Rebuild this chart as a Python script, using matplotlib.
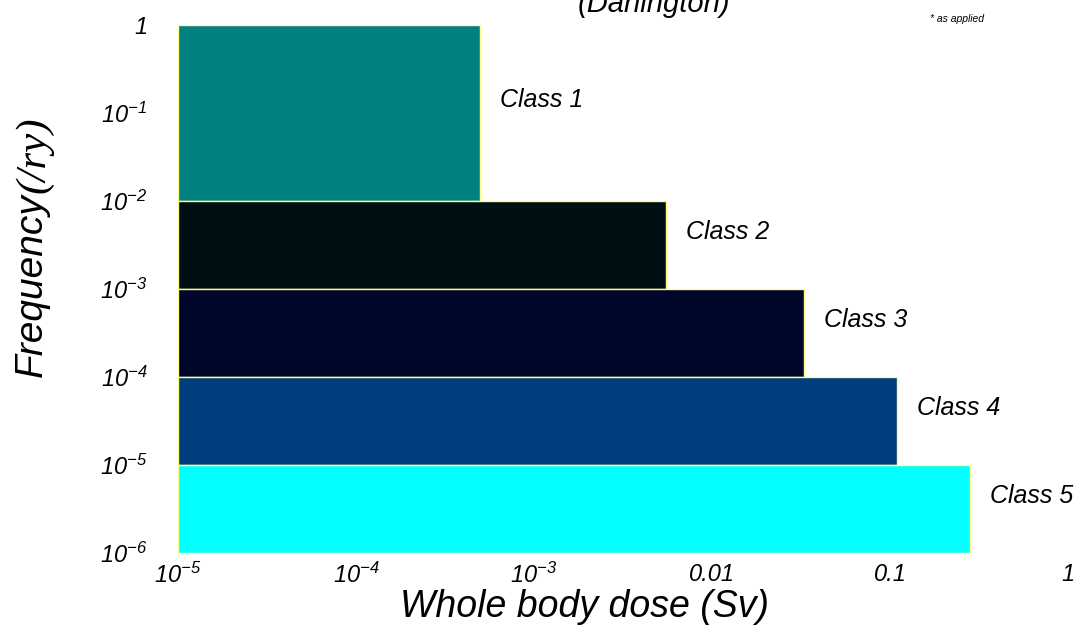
import matplotlib.pyplot as plt

# Class bands: frequency range (/ry) and dose limit (Sv)
classes = ["Class 1", "Class 2", "Class 3", "Class 4", "Class 5"]
freq_upper = [1, 1e-2, 1e-3, 1e-4, 1e-5]
freq_lower = [1e-2, 1e-3, 1e-4, 1e-5, 1e-6]
dose_limit = [5e-4, 5.5e-3, 0.033, 0.11, 0.28]
dose_start = 1e-5
colors = ["#008080", "#000f14", "#00052a", "#003d7c", "#00ffff"]

x_ticks = [1e-5, 1e-4, 1e-3, 1e-2, 1e-1, 1]
x_tick_labels = [r"$10^{-5}$", r"$10^{-4}$", r"$10^{-3}$", "0.01", "0.1", "1"]
y_ticks = [1, 1e-1, 1e-2, 1e-3, 1e-4, 1e-5, 1e-6]
y_tick_labels = ["1", r"$10^{-1}$", r"$10^{-2}$", r"$10^{-3}$", r"$10^{-4}$",
                 r"$10^{-5}$", r"$10^{-6}$"]

plt.rcParams["font.family"] = ["Liberation Sans", "DejaVu Sans"]
plt.rcParams["mathtext.fontset"] = "custom"
plt.rcParams["mathtext.rm"] = "Liberation Sans:italic"
plt.rcParams["mathtext.it"] = "Liberation Sans:italic"

W, H = 1079, 633
fig = plt.figure(figsize=(W / 100, H / 100), dpi=100)
ax = fig.add_axes([178 / W, 1 - 553 / H, 890 / W, 528 / H])
ax.set_xscale("log")
ax.set_yscale("log")

heights = [u - l for u, l in zip(freq_upper, freq_lower)]
widths = [d - dose_start for d in dose_limit]
ax.barh(freq_lower, widths, height=heights, left=dose_start, align="edge",
        color=colors, edgecolor="#ffff88", linewidth=1)

# class labels just to the right of each band
for name, d, lo, hi in zip(classes, dose_limit, freq_lower, freq_upper):
    ax.annotate(name, xy=(d, (lo * hi) ** 0.5), xytext=(20, 13),
                textcoords="offset pixels", ha="left", va="center",
                fontsize=18, style="italic")

ax.set_xlim(1e-5, 1)
ax.set_ylim(1e-6, 1)
ax.set_xticks(x_ticks)
ax.set_xticklabels(x_tick_labels, fontsize=17, style="italic")
ax.set_yticks(y_ticks)
ax.set_yticklabels(y_tick_labels, fontsize=17, style="italic")
ax.minorticks_off()
ax.tick_params(length=0, axis="x", pad=7)
ax.tick_params(length=0, axis="y", pad=22)
for s in ax.spines.values():
    s.set_visible(False)

fig.text(585 / W, 1 - 617 / H, "Whole body dose (Sv)", ha="center", va="baseline",
         fontsize=27, style="italic")
fig.text(32 / W, 1 - 285 / H, "Frequency", rotation=90, ha="center", va="center",
         fontsize=28, style="italic")
fig.text(34 / W, 1 - 155 / H, "(/ry)", rotation=90, ha="center", va="center",
         fontsize=31, style="italic", family="Liberation Serif")
fig.text(654 / W, 1 - 12 / H, "(Darlington)", ha="center", va="baseline",
         fontsize=21, style="italic")
fig.text(957 / W, 1 - 19 / H, "* as applied", ha="center", va="center",
         fontsize=7.5, style="italic")

fig.savefig("out.png", dpi=100)
